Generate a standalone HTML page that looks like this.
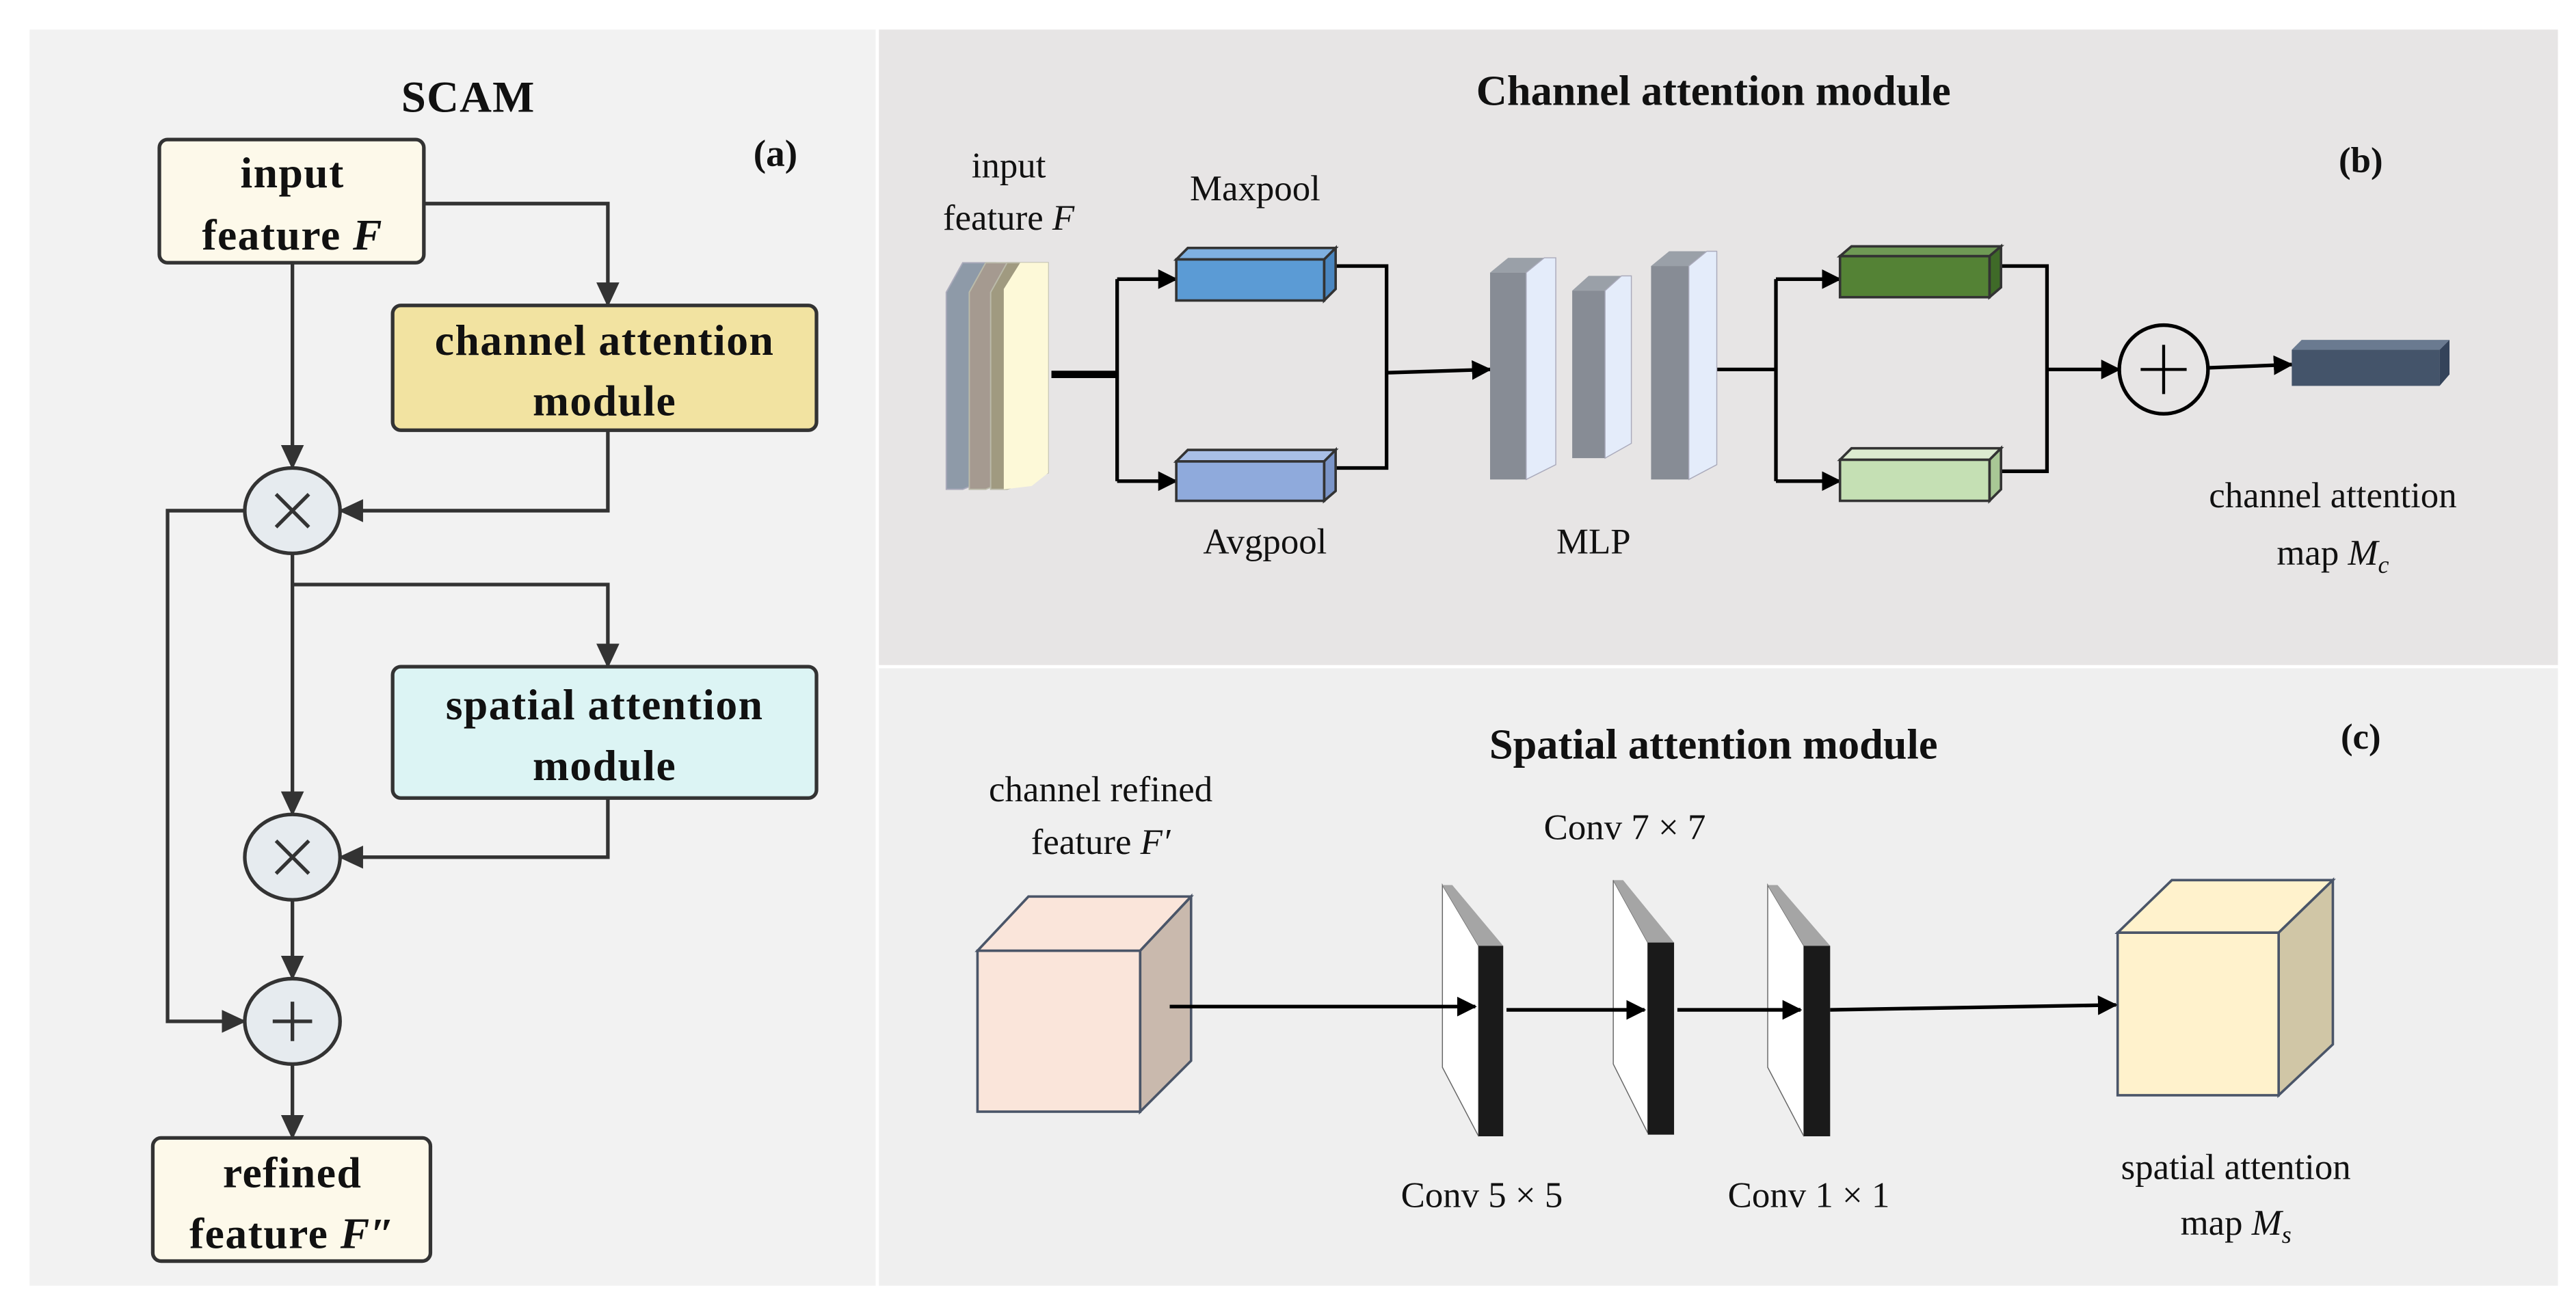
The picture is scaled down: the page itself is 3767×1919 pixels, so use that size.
<!DOCTYPE html>
<html><head><meta charset="utf-8"><style>
html,body{margin:0;padding:0;background:#fff;}
svg{display:block;}
text{font-family:"Liberation Serif",serif;fill:#111;}
.b{font-weight:bold;}
</style></head><body>
<svg width="3767" height="1919" viewBox="0 0 1568 799" preserveAspectRatio="none" xmlns="http://www.w3.org/2000/svg">
<defs>
<marker id="ag" markerUnits="userSpaceOnUse" markerWidth="16" markerHeight="14" refX="14" refY="7" orient="auto"><path d="M0,0 L15,7 L0,14 z" fill="#333"/></marker>
<marker id="ak" markerUnits="userSpaceOnUse" markerWidth="12" markerHeight="12" refX="11" refY="6" orient="auto"><path d="M0,0 L12,6 L0,12 z" fill="#000"/></marker>
</defs>
<rect width="1568" height="799" fill="#fff"/>
<rect x="18" y="18" width="515" height="765" fill="#f2f2f2"/>
<rect x="535" y="18" width="1022" height="387" fill="#e7e5e5"/>
<rect x="535" y="407" width="1022" height="376" fill="#efefef"/>

<!-- Panel a -->
<text x="285" y="68" font-size="27" class="b" text-anchor="middle" letter-spacing="0.5">SCAM</text>
<text x="472" y="101" font-size="23" class="b" text-anchor="middle">(a)</text>
<g stroke="#333" stroke-width="2.2" fill="none">
<polyline points="258,124 370,124 370,186" marker-end="url(#ag)"/>
<line x1="178" y1="160" x2="178" y2="285" marker-end="url(#ag)"/>
<polyline points="370,262 370,311 207,311" marker-end="url(#ag)"/>
<line x1="178" y1="337" x2="178" y2="496" marker-end="url(#ag)"/>
<polyline points="178,356 370,356 370,406" marker-end="url(#ag)"/>
<polyline points="370,486 370,522 207,522" marker-end="url(#ag)"/>
<line x1="178" y1="548" x2="178" y2="596" marker-end="url(#ag)"/>
<polyline points="149,311 102,311 102,622 149,622" marker-end="url(#ag)"/>
<line x1="178" y1="648" x2="178" y2="693" marker-end="url(#ag)"/>
</g>
<g stroke="#333" stroke-width="2.2">
<rect x="97" y="85" width="161" height="75" rx="5" fill="#fdf9ea"/>
<rect x="239" y="186" width="258" height="76" rx="5" fill="#f2e3a1"/>
<rect x="239" y="406" width="258" height="80" rx="5" fill="#dcf4f4"/>
<rect x="93" y="693" width="169" height="75" rx="5" fill="#fdf9ea"/>
<ellipse cx="178" cy="311" rx="29" ry="26" fill="#e6ebef"/>
<ellipse cx="178" cy="522" rx="29" ry="26" fill="#e6ebef"/>
<ellipse cx="178" cy="622" rx="29" ry="26" fill="#e6ebef"/>
<path d="M168,301 L188,321 M188,301 L168,321 M168,512 L188,532 M188,512 L168,532 M178,610 L178,634 M166,622 L190,622" fill="none"/>
</g>
<g class="b" font-size="26.5" text-anchor="middle" letter-spacing="0.6">
<text x="178" y="114" class="b">input</text>
<text x="178" y="152" class="b">feature <tspan font-style="italic">F</tspan></text>
<text x="368" y="216" class="b">channel attention</text>
<text x="368" y="253" class="b">module</text>
<text x="368" y="438" class="b">spatial attention</text>
<text x="368" y="475" class="b">module</text>
<text x="178" y="723" class="b">refined</text>
<text x="178" y="760" class="b">feature <tspan font-style="italic">F″</tspan></text>
</g>

<!-- Panel b -->
<text x="1043" y="64" font-size="26" class="b" text-anchor="middle">Channel attention module</text>
<text x="1437" y="105" font-size="22" class="b" text-anchor="middle">(b)</text>
<g font-size="22" text-anchor="middle">
<text x="614" y="108">input</text>
<text x="614" y="140">feature <tspan font-style="italic">F</tspan></text>
<text x="764" y="122">Maxpool</text>
<text x="770" y="337">Avgpool</text>
<text x="970" y="337">MLP</text>
<text x="1420" y="309">channel attention</text>
<text x="1420" y="344">map <tspan font-style="italic">M<tspan font-size="15" dy="5">c</tspan></tspan></text>
</g>
<!-- plates -->
<polygon points="576,178 586,160 606,160 606,290 586,298 576,298" fill="#8e9aa8" stroke="#aab" stroke-width="0.8"/>
<polygon points="590,178 600,160 620,160 620,290 600,298 590,298" fill="#a59a90" stroke="#bba" stroke-width="0.8"/>
<polygon points="603,178 613,160 638,160 638,288 613,298 603,298" fill="#a09a80" stroke="#bba" stroke-width="0.8"/>
<polygon points="611,176 621,160 638,160 638,288 628,296 611,298" fill="#fdf9d8"/>
<g stroke="#000" stroke-width="2.2" fill="none">
<line x1="640" y1="228" x2="680" y2="228" stroke-width="4.5"/>
<polyline points="680,170 680,293"/>
<line x1="680" y1="170" x2="716" y2="170" marker-end="url(#ak)"/>
<line x1="680" y1="293" x2="716" y2="293" marker-end="url(#ak)"/>
<polyline points="812,162 844,162 844,285 812,285"/>
<line x1="844" y1="227" x2="907" y2="225" marker-end="url(#ak)"/>
<line x1="1045" y1="225" x2="1081" y2="225"/>
<polyline points="1081,170 1081,293"/>
<line x1="1081" y1="170" x2="1120" y2="170" marker-end="url(#ak)"/>
<line x1="1081" y1="293" x2="1120" y2="293" marker-end="url(#ak)"/>
<polyline points="1218,162 1246,162 1246,287 1218,287"/>
<line x1="1246" y1="225" x2="1290" y2="225" marker-end="url(#ak)"/>
<line x1="1344" y1="224" x2="1395" y2="222" marker-end="url(#ak)"/>
</g>
<!-- 3D boxes -->
<g stroke="#333" stroke-width="1.5">
<polygon points="716,158 723,151 813,151 806,158" fill="#7fb0e0"/>
<polygon points="806,158 813,151 813,176 806,183" fill="#4a86c0"/>
<rect x="716" y="158" width="90" height="25" fill="#5b9bd5"/>
<polygon points="716,281 723,274 813,274 806,281" fill="#a9bfe6"/>
<polygon points="806,281 813,274 813,299 806,305" fill="#7b95c8"/>
<rect x="716" y="281" width="90" height="24" fill="#8faadc"/>
<polygon points="1120,156 1127,150 1218,150 1211,156" fill="#6f9a55"/>
<polygon points="1211,156 1218,150 1218,175 1211,181" fill="#3f6a28"/>
<rect x="1120" y="156" width="91" height="25" fill="#548235"/>
<polygon points="1120,280 1127,273 1218,273 1211,280" fill="#dcebd0"/>
<polygon points="1211,280 1218,273 1218,298 1211,305" fill="#a8c795"/>
<rect x="1120" y="280" width="91" height="25" fill="#c5e0b4"/>
</g>
<polygon points="1395,213 1401,207 1491,207 1485,213" fill="#6a7a90"/>
<polygon points="1485,213 1491,207 1491,228 1485,235" fill="#34435a"/>
<rect x="1395" y="213" width="90" height="22" fill="#44546a"/>
<circle cx="1317" cy="225" r="27" fill="none" stroke="#000" stroke-width="2.2"/>
<path d="M1317,210 L1317,240 M1303,225 L1331,225" stroke="#000" stroke-width="1.8"/>
<!-- MLP bars -->
<polygon points="907,166 918,157 940,157 929,166" fill="#9aa0a8"/>
<rect x="907" y="166" width="22" height="126" fill="#878c95"/>
<polygon points="929,166 940,157 947,157 947,283 929,292" fill="#e4ecfa" stroke="#aab" stroke-width="0.6"/>
<polygon points="957,177 967,168 987,168 977,177" fill="#9aa0a8"/>
<rect x="957" y="177" width="20" height="102" fill="#878c95"/>
<polygon points="977,177 987,168 993,168 993,270 977,279" fill="#e4ecfa" stroke="#aab" stroke-width="0.6"/>
<polygon points="1005,162 1016,153 1039,153 1028,162" fill="#9aa0a8"/>
<rect x="1005" y="162" width="23" height="130" fill="#878c95"/>
<polygon points="1028,162 1039,153 1045,153 1045,283 1028,292" fill="#e4ecfa" stroke="#aab" stroke-width="0.6"/>

<!-- Panel c -->
<text x="1043" y="462" font-size="26" class="b" text-anchor="middle">Spatial attention module</text>
<text x="1437" y="456" font-size="22" class="b" text-anchor="middle">(c)</text>
<g font-size="22" text-anchor="middle">
<text x="670" y="488">channel refined</text>
<text x="670" y="520">feature <tspan font-style="italic">F′</tspan></text>
<text x="989" y="511">Conv 7 × 7</text>
<text x="902" y="735">Conv 5 × 5</text>
<text x="1101" y="735">Conv 1 × 1</text>
<text x="1361" y="718">spatial attention</text>
<text x="1361" y="752">map <tspan font-style="italic">M<tspan font-size="15" dy="5">s</tspan></tspan></text>
</g>
<g stroke="#4a5568" stroke-width="1.5">
<polygon points="595,579 626,546 725,546 694,579" fill="#fae5da"/>
<polygon points="694,579 725,546 725,646 694,677" fill="#c9b9ad"/>
<rect x="595" y="579" width="99" height="98" fill="#fae5da"/>
<polygon points="1289,568 1322,536 1420,536 1387,568" fill="#fff2cc"/>
<polygon points="1387,568 1420,536 1420,636 1387,667" fill="#d0c6a6"/>
<rect x="1289" y="568" width="98" height="99" fill="#fff2cc"/>
</g>
<!-- conv plates -->
<g>
<polygon points="878,539 878,650 900,692 900,576" fill="#fff" stroke="#666" stroke-width="0.6"/>
<polygon points="878,539 884,539 915,576 900,576" fill="#a5a5a5"/>
<rect x="900" y="576" width="15" height="116" fill="#1a1a1a"/>
<polygon points="982,536 982,648 1003,690 1003,574" fill="#fff" stroke="#666" stroke-width="0.6"/>
<polygon points="982,536 988,536 1019,574 1003,574" fill="#a5a5a5"/>
<rect x="1003" y="574" width="16" height="117" fill="#1a1a1a"/>
<polygon points="1076,539 1076,650 1098,692 1098,576" fill="#fff" stroke="#666" stroke-width="0.6"/>
<polygon points="1076,539 1082,539 1114,576 1098,576" fill="#a5a5a5"/>
<rect x="1098" y="576" width="16" height="116" fill="#1a1a1a"/>
</g>
<g stroke="#000" stroke-width="2.2">
<line x1="712" y1="613" x2="898" y2="613" marker-end="url(#ak)"/>
<line x1="917" y1="615" x2="1001" y2="615" marker-end="url(#ak)"/>
<line x1="1021" y1="615" x2="1096" y2="615" marker-end="url(#ak)"/>
<line x1="1114" y1="615" x2="1288" y2="612" marker-end="url(#ak)"/>
</g>
</svg>
</body></html>
